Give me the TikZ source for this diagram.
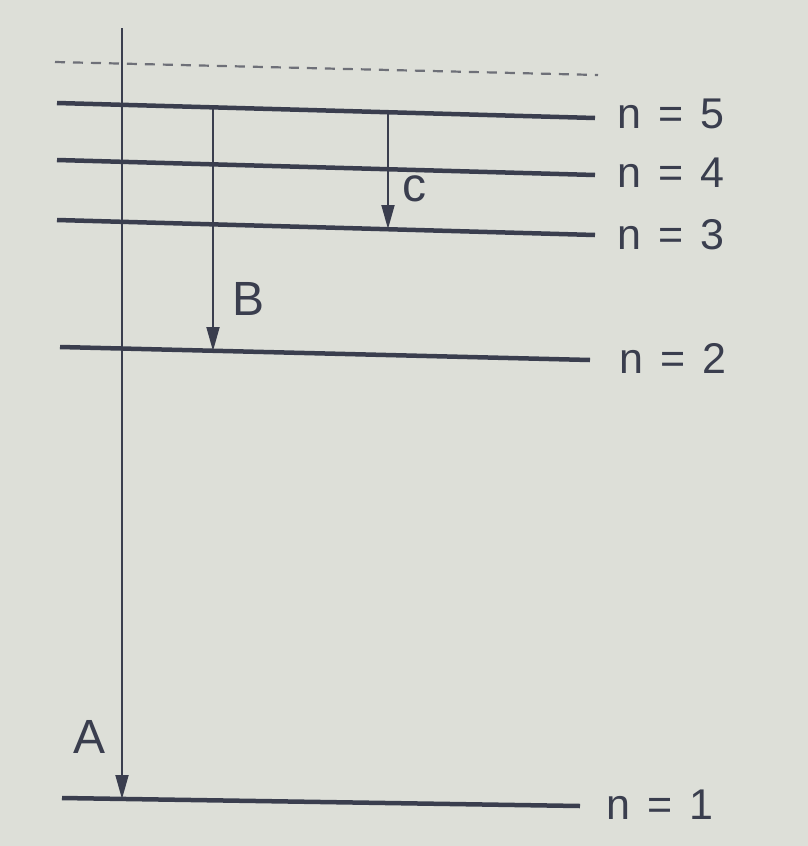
\documentclass[tikz,border=0pt]{standalone}
\usepackage{fontspec}
\setmainfont{Liberation Sans}
\usetikzlibrary{arrows.meta}
\definecolor{bgc}{RGB}{221,223,216}
\definecolor{ink}{RGB}{58,62,78}
\definecolor{dashc}{RGB}{110,112,120}
\newcommand{\lvl}[1]{n\hspace{17pt}=\hspace{17pt}#1}
\begin{document}
\begin{tikzpicture}[x=1pt,y=-1pt,
  level/.style={draw=ink,line width=4.5pt},
  trans/.style={draw=ink,line width=1.8pt,-{Triangle[length=24pt,width=13pt]}},
  lab/.style={text=ink,font=\fontsize{43}{48}\selectfont,inner sep=0pt},
  tlab/.style={text=ink,font=\fontsize{48}{52}\selectfont,inner sep=0pt}]
\fill[bgc] (0,0) rectangle (808,846);
\useasboundingbox (0,0) rectangle (808,846);
% level end points
\coordinate (d1) at (55,62);  \coordinate (d2) at (598,75);
\coordinate (l5a) at (57,103); \coordinate (l5b) at (595,118);
\coordinate (l4a) at (57,160); \coordinate (l4b) at (595,175);
\coordinate (l3a) at (57,220); \coordinate (l3b) at (595,235);
\coordinate (l2a) at (60,347); \coordinate (l2b) at (590,360);
\coordinate (l1a) at (62,798); \coordinate (l1b) at (580,806);
\draw[draw=dashc,line width=2.2pt,dash pattern=on 10pt off 8pt] (d1) -- (d2);
\draw[level] (l5a) -- (l5b);
\draw[level] (l4a) -- (l4b);
\draw[level] (l3a) -- (l3b);
\draw[level] (l2a) -- (l2b);
\draw[level] (l1a) -- (l1b);
\node[lab,anchor=west] (n5) at (617,114) {\lvl{5}};
\node[lab,anchor=west] (n4) at (617,173) {\lvl{4}};
\node[lab,anchor=west] (n3) at (617,235) {\lvl{3}};
\node[lab,anchor=west] (n2) at (619,358) {\lvl{2}};
\node[lab,anchor=west] (n1) at (606,805) {\lvl{1}};
% transitions
\coordinate (aS) at (122,28);  \coordinate (aE) at (122,799);
\coordinate (bS) at (213,107); \coordinate (bE) at (213,351);
\coordinate (cS) at (388,112); \coordinate (cE) at (388,229);
\draw[trans] (aS) -- (aE);
\draw[trans] (bS) -- (bE);
\draw[trans] (cS) -- (cE);
\node[tlab] (A) at (90,737) {A};
\node[tlab] (B) at (249,299) {B};
\node[tlab] (C) at (414,189) {c};
\end{tikzpicture}
\end{document}
